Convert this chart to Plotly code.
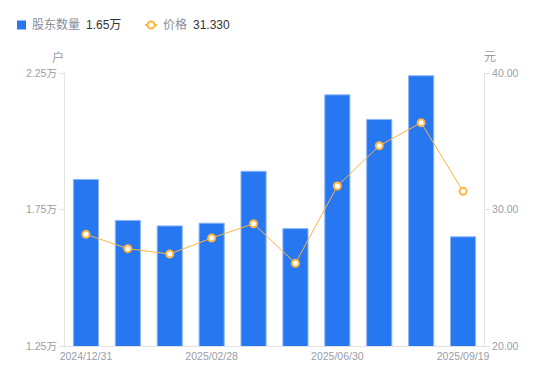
import plotly.graph_objects as go

dates = ["2024/12/31", "2025/01/10", "2025/01/20", "2025/02/28", "2025/03/31",
         "2025/04/30", "2025/06/30", "2025/07/31", "2025/08/31", "2025/09/19"]
holders = [1.86, 1.71, 1.69, 1.70, 1.89, 1.68, 2.17, 2.08, 2.24, 1.65]  # 万户
prices = [28.18, 27.13, 26.74, 27.91, 28.96, 26.06, 31.72, 34.67, 36.36, 31.33]
shown_ticks = ["2024/12/31", "2025/02/28", "2025/06/30", "2025/09/19"]
left_ticks = [1.25, 1.75, 2.25]
right_ticks = [20, 30, 40]
legend_holders = "1.65万"
legend_price = "31.330"

gray = "#9A9CA8"
legend_gray = "#8A8C99"
dark = "#333333"
axis_line = "#E3E3E6"
blue = "#2777F1"
orange = "#FFB53F"
font_family = "'Liberation Sans', Arial, 'Noto Sans CJK SC', sans-serif"

# page body keeps its default 8px margin; figure is sized so the plot area
# lands at x 65..484, y 73..346 in the 550x381 window
OFF = 8
W, H = 542, 373
L, R, T, B = 57, 66, 65, 35
PW, PH = W - L - R, H - T - B


def px(xp):
    return (xp - OFF - L) / PW


def py(yp):
    return (H - B - (yp - OFF)) / PH


fig = go.Figure()
fig.add_trace(go.Bar(
    x=dates, y=holders, name="股东数量",
    marker=dict(color=blue, line=dict(color="#8DB6F7", width=1)),
    width=0.6, yaxis="y",
))
fig.add_trace(go.Scatter(
    x=dates, y=prices, name="价格",
    mode="lines+markers", yaxis="y2",
    line=dict(color=orange, width=1),
    marker=dict(symbol="circle", size=7, color="white", line=dict(color=orange, width=2)),
))

ly = 25
shapes = [
    dict(type="rect", xref="paper", yref="paper", x0=px(17), x1=px(26), y0=py(ly + 4.5), y1=py(ly - 4.5),
         fillcolor=blue, line=dict(width=0)),
    dict(type="line", xref="paper", yref="paper", x0=px(145), x1=px(157), y0=py(ly), y1=py(ly),
         line=dict(color=orange, width=2)),
    dict(type="circle", xref="paper", yref="paper", x0=px(147.5), x1=px(154.5), y0=py(ly + 3.5), y1=py(ly - 3.5),
         fillcolor="white", line=dict(color=orange, width=2)),
]

annotations = [
    dict(text="户", xref="paper", yref="paper", x=0, y=1, xshift=-7, yshift=16,
         xanchor="center", yanchor="middle", showarrow=False, font=dict(size=12, color=gray)),
    dict(text="元", xref="paper", yref="paper", x=1, y=1, xshift=6, yshift=16,
         xanchor="center", yanchor="middle", showarrow=False, font=dict(size=12, color=gray)),
    dict(text="股东数量", xref="paper", yref="paper", x=px(30), y=py(ly), xanchor="left", yanchor="middle",
         showarrow=False, font=dict(size=12, color=legend_gray)),
    dict(text=legend_holders, xref="paper", yref="paper", x=px(84), y=py(ly), xanchor="left", yanchor="middle",
         showarrow=False, font=dict(size=12, color=dark)),
    dict(text="价格", xref="paper", yref="paper", x=px(161), y=py(ly), xanchor="left", yanchor="middle",
         showarrow=False, font=dict(size=12, color=legend_gray)),
    dict(text=legend_price, xref="paper", yref="paper", x=px(191), y=py(ly), xanchor="left", yanchor="middle",
         showarrow=False, font=dict(size=12, color=dark)),
]

tick_font = dict(size=10.5, color=gray)

fig.update_layout(
    width=W, height=H,
    margin=dict(l=L, r=R, t=T, b=B),
    plot_bgcolor="white", paper_bgcolor="white",
    font=dict(family=font_family, size=11, color=gray),
    showlegend=False,
    xaxis=dict(type="category", tickmode="array", tickvals=shown_ticks, ticktext=shown_ticks,
               range=[-0.5, len(dates) - 0.5],
               showline=True, linecolor=axis_line, linewidth=1, showgrid=False,
               ticks="", tickfont=tick_font, zeroline=False, automargin=False),
    yaxis=dict(range=[1.25, 2.25], tickvals=left_ticks,
               ticktext=[f"{v:.2f}万" for v in left_ticks],
               showline=True, linecolor=axis_line, showgrid=False, zeroline=False,
               ticks="outside", ticklen=5, tickcolor=axis_line, automargin=False,
               tickfont=tick_font),
    yaxis2=dict(range=[20, 40], tickvals=right_ticks,
                ticktext=[f"{v:.2f}" for v in right_ticks],
                overlaying="y", side="right", anchor="x",
                showline=True, linecolor=axis_line, showgrid=False, zeroline=False,
                ticks="outside", ticklen=5, tickcolor=axis_line, automargin=False,
                tickfont=tick_font),
    shapes=shapes,
    annotations=annotations,
)

fig.write_html("out.html", config={"displayModeBar": False})
